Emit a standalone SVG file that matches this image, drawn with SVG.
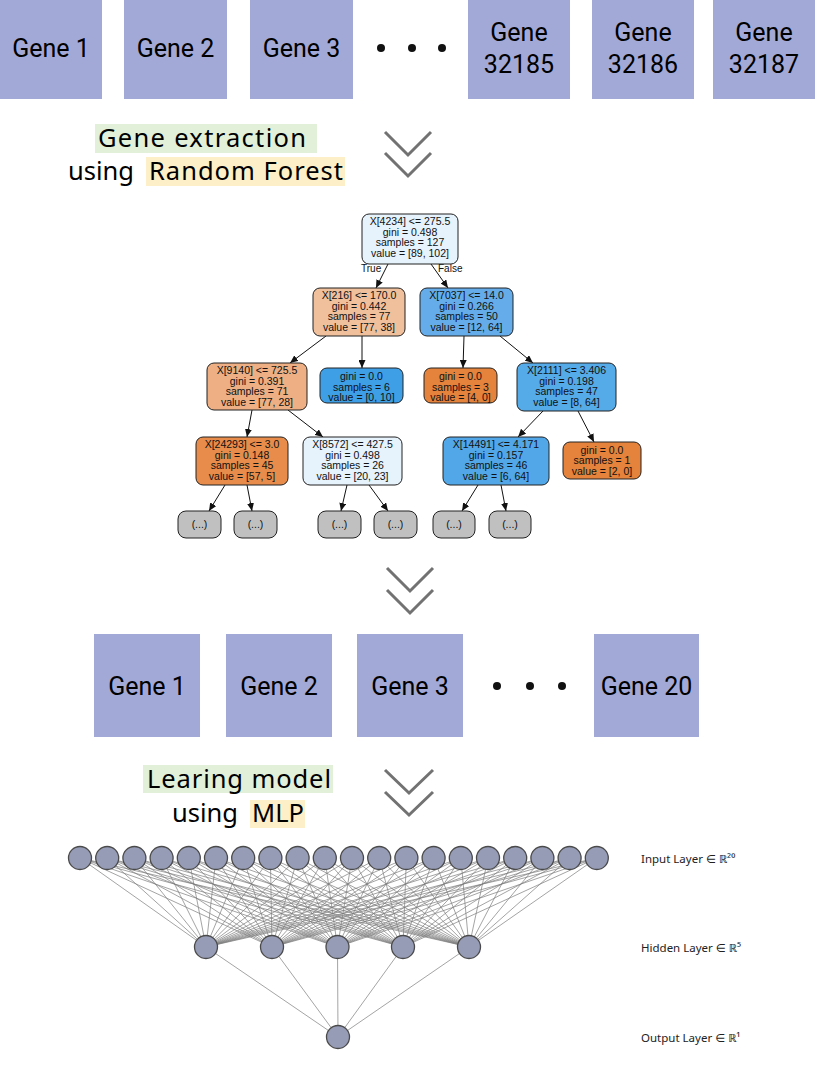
<svg xmlns="http://www.w3.org/2000/svg" width="818" height="1066" viewBox="0 0 818 1066">
<style>
.gbox{fill:#a3a9d6}
.gt{font-family:Roboto,"Noto Sans","Liberation Sans",sans-serif;font-size:25px;fill:#000;text-anchor:middle}
.ht{font-family:"Noto Sans","Liberation Sans",sans-serif;font-size:25.5px;fill:#000}
.hg{fill:#e2efd9}
.hy{fill:#fdefc7}
.chev{fill:none;stroke:#727272;stroke-width:3}
.tn{stroke:#222;stroke-width:1}
.tt{font-family:"Liberation Sans",Arial,sans-serif;font-size:10.5px;fill:#111;text-anchor:middle}
.te{stroke:#111;stroke-width:1;fill:none;marker-end:url(#ah)}
.el{font-family:"Liberation Sans",Arial,sans-serif;font-size:10px;fill:#111}
.nn{fill:#979cb6;stroke:#4a4a4a;stroke-width:1.3}
.ml{stroke:#7c7c7c;stroke-width:0.7;fill:none}
.lt{font-family:"Noto Sans","DejaVu Sans",sans-serif;font-size:11.5px;fill:#222}
</style>
<defs>
<marker id="ah" markerUnits="userSpaceOnUse" markerWidth="8" markerHeight="7" refX="8" refY="3.5" orient="auto">
<path d="M0,0 L8,3.5 L0,7 z" fill="#111"/>
</marker>
</defs>
<rect width="818" height="1066" fill="#fff"/>

<g id="top-genes">
<g id="g1"><rect class="gbox" x="0" y="0" width="102" height="99"/><text class="gt" x="51" y="57">Gene 1</text></g>
<g id="g2"><rect class="gbox" x="124" y="0" width="103" height="99"/><text class="gt" x="175.5" y="57">Gene 2</text></g>
<g id="g3"><rect class="gbox" x="250" y="0" width="103" height="99"/><text class="gt" x="301.5" y="57">Gene 3</text></g>
<g id="gdots1"><circle cx="381" cy="48" r="4" fill="#111"/><circle cx="412" cy="48" r="4" fill="#111"/><circle cx="442" cy="48" r="4" fill="#111"/></g>
<g id="g32185"><rect class="gbox" x="468" y="0" width="102" height="99"/><text class="gt" x="519" y="41">Gene</text><text class="gt" x="519" y="73">32185</text></g>
<g id="g32186"><rect class="gbox" x="592" y="0" width="102" height="99"/><text class="gt" x="643" y="41">Gene</text><text class="gt" x="643" y="73">32186</text></g>
<g id="g32187"><rect class="gbox" x="713" y="0" width="102" height="99"/><text class="gt" x="764" y="41">Gene</text><text class="gt" x="764" y="73">32187</text></g>
</g>

<g id="label-rf">
<rect class="hg" x="95" y="124" width="222" height="29"/>
<text class="ht" x="98" y="147" textLength="208" lengthAdjust="spacing">Gene extraction</text>
<text class="ht" x="68" y="180">using</text>
<rect class="hy" x="146" y="157" width="199" height="29"/>
<text class="ht" x="149" y="180" textLength="194" lengthAdjust="spacing">Random Forest</text>
</g>

<g id="arrows">
<polyline class="chev" points="385,132 408,155 431,132"/>
<polyline class="chev" points="385,153 408,176 431,153"/>
<polyline class="chev" points="387,568 410,591 433,568"/>
<polyline class="chev" points="387,590 410,613 433,590"/>
<polyline class="chev" points="385,770 409,793 433,770"/>
<polyline class="chev" points="385,792 409,815 433,792"/>
</g>

<g id="connectors">
<g id="tree-edges">
<line class="te" x1="388" y1="264" x2="376" y2="288"/>
<line class="te" x1="431" y1="264" x2="448" y2="288"/>
<line class="te" x1="326" y1="336" x2="290" y2="363"/>
<line class="te" x1="362" y1="336" x2="362" y2="368"/>
<line class="te" x1="464" y1="336" x2="463" y2="368"/>
<line class="te" x1="500" y1="336" x2="533" y2="363"/>
<line class="te" x1="252" y1="410" x2="247" y2="437"/>
<line class="te" x1="288" y1="410" x2="323" y2="437"/>
<line class="te" x1="543" y1="411" x2="518" y2="437"/>
<line class="te" x1="578" y1="411" x2="594" y2="442"/>
<line class="te" x1="225" y1="485" x2="209" y2="511"/>
<line class="te" x1="247" y1="485" x2="252" y2="511"/>
<line class="te" x1="347" y1="485" x2="341" y2="511"/>
<line class="te" x1="369" y1="485" x2="388" y2="511"/>
<line class="te" x1="478" y1="485" x2="462" y2="511"/>
<line class="te" x1="501" y1="485" x2="506" y2="511"/>
<text class="el" x="361" y="272">True</text>
<text class="el" x="438" y="272">False</text>
</g>
<g id="mlp-edges">
<path class="ml" d="M206 947L80 858L272 947M337.5 947L80 858L403 947M469 947L80 858
M206 947L107.2 858L272 947M337.5 947L107.2 858L403 947M469 947L107.2 858
M206 947L134.4 858L272 947M337.5 947L134.4 858L403 947M469 947L134.4 858
M206 947L161.6 858L272 947M337.5 947L161.6 858L403 947M469 947L161.6 858
M206 947L188.8 858L272 947M337.5 947L188.8 858L403 947M469 947L188.8 858
M206 947L216 858L272 947M337.5 947L216 858L403 947M469 947L216 858
M206 947L243.2 858L272 947M337.5 947L243.2 858L403 947M469 947L243.2 858
M206 947L270.4 858L272 947M337.5 947L270.4 858L403 947M469 947L270.4 858
M206 947L297.6 858L272 947M337.5 947L297.6 858L403 947M469 947L297.6 858
M206 947L324.8 858L272 947M337.5 947L324.8 858L403 947M469 947L324.8 858
M206 947L352 858L272 947M337.5 947L352 858L403 947M469 947L352 858
M206 947L379.2 858L272 947M337.5 947L379.2 858L403 947M469 947L379.2 858
M206 947L406.4 858L272 947M337.5 947L406.4 858L403 947M469 947L406.4 858
M206 947L433.6 858L272 947M337.5 947L433.6 858L403 947M469 947L433.6 858
M206 947L460.8 858L272 947M337.5 947L460.8 858L403 947M469 947L460.8 858
M206 947L488 858L272 947M337.5 947L488 858L403 947M469 947L488 858
M206 947L515.2 858L272 947M337.5 947L515.2 858L403 947M469 947L515.2 858
M206 947L542.4 858L272 947M337.5 947L542.4 858L403 947M469 947L542.4 858
M206 947L569.6 858L272 947M337.5 947L569.6 858L403 947M469 947L569.6 858
M206 947L596.8 858L272 947M337.5 947L596.8 858L403 947M469 947L596.8 858
M206 947L338 1037L272 947M337.5 947L338 1037L403 947M469 947L338 1037"/>
</g>
</g>

<g id="tree">
<g id="t-root"><rect class="tn" x="362" y="214" width="96" height="50" rx="7" fill="#e6f3fc"/>
<text class="tt" x="410" y="225">X[4234] &lt;= 275.5</text><text class="tt" x="410" y="235.7">gini = 0.498</text><text class="tt" x="410" y="246.3">samples = 127</text><text class="tt" x="410" y="257">value = [89, 102]</text></g>
<g id="t-216"><rect class="tn" x="313" y="288" width="92" height="48" rx="7" fill="#f0c09d"/>
<text class="tt" x="359" y="299">X[216] &lt;= 170.0</text><text class="tt" x="359" y="309.7">gini = 0.442</text><text class="tt" x="359" y="320.3">samples = 77</text><text class="tt" x="359" y="331">value = [77, 38]</text></g>
<g id="t-7037"><rect class="tn" x="420" y="288" width="93" height="48" rx="7" fill="#64adea"/>
<text class="tt" x="466.5" y="299">X[7037] &lt;= 14.0</text><text class="tt" x="466.5" y="309.7">gini = 0.266</text><text class="tt" x="466.5" y="320.3">samples = 50</text><text class="tt" x="466.5" y="331">value = [12, 64]</text></g>
<g id="t-9140"><rect class="tn" x="207" y="363" width="100" height="47" rx="7" fill="#edaf83"/>
<text class="tt" x="257" y="374">X[9140] &lt;= 725.5</text><text class="tt" x="257" y="384.7">gini = 0.391</text><text class="tt" x="257" y="395.3">samples = 71</text><text class="tt" x="257" y="406">value = [77, 28]</text></g>
<g id="t-leaf6"><rect class="tn" x="320" y="368" width="83" height="35" rx="7" fill="#3e9fe6"/>
<text class="tt" x="361.5" y="380">gini = 0.0</text><text class="tt" x="361.5" y="390.5">samples = 6</text><text class="tt" x="361.5" y="401">value = [0, 10]</text></g>
<g id="t-leaf3"><rect class="tn" x="424" y="368" width="73" height="35" rx="7" fill="#e5823b"/>
<text class="tt" x="460.5" y="380">gini = 0.0</text><text class="tt" x="460.5" y="390.5">samples = 3</text><text class="tt" x="460.5" y="401">value = [4, 0]</text></g>
<g id="t-2111"><rect class="tn" x="517" y="363" width="99" height="48" rx="7" fill="#55aae8"/>
<text class="tt" x="566.5" y="374">X[2111] &lt;= 3.406</text><text class="tt" x="566.5" y="384.7">gini = 0.198</text><text class="tt" x="566.5" y="395.3">samples = 47</text><text class="tt" x="566.5" y="406">value = [8, 64]</text></g>
<g id="t-24293"><rect class="tn" x="196" y="437" width="92" height="48" rx="7" fill="#e78c4b"/>
<text class="tt" x="242" y="448">X[24293] &lt;= 3.0</text><text class="tt" x="242" y="458.7">gini = 0.148</text><text class="tt" x="242" y="469.3">samples = 45</text><text class="tt" x="242" y="480">value = [57, 5]</text></g>
<g id="t-8572"><rect class="tn" x="303" y="437" width="99" height="48" rx="7" fill="#e6f2fc"/>
<text class="tt" x="352.5" y="448">X[8572] &lt;= 427.5</text><text class="tt" x="352.5" y="458.7">gini = 0.498</text><text class="tt" x="352.5" y="469.3">samples = 26</text><text class="tt" x="352.5" y="480">value = [20, 23]</text></g>
<g id="t-14491"><rect class="tn" x="443" y="437" width="106" height="48" rx="7" fill="#52a7e8"/>
<text class="tt" x="496" y="448">X[14491] &lt;= 4.171</text><text class="tt" x="496" y="458.7">gini = 0.157</text><text class="tt" x="496" y="469.3">samples = 46</text><text class="tt" x="496" y="480">value = [6, 64]</text></g>
<g id="t-leaf1"><rect class="tn" x="563" y="442" width="78" height="37" rx="7" fill="#e5823b"/>
<text class="tt" x="602" y="453.5">gini = 0.0</text><text class="tt" x="602" y="464">samples = 1</text><text class="tt" x="602" y="474.5">value = [2, 0]</text></g>
<g id="t-e1"><rect class="tn" x="178" y="511" width="43" height="27" rx="8" fill="#c0c0c0"/><text class="tt" x="199.5" y="528">(...)</text></g>
<g id="t-e2"><rect class="tn" x="234" y="511" width="43" height="27" rx="8" fill="#c0c0c0"/><text class="tt" x="255.5" y="528">(...)</text></g>
<g id="t-e3"><rect class="tn" x="318" y="511" width="43" height="27" rx="8" fill="#c0c0c0"/><text class="tt" x="339.5" y="528">(...)</text></g>
<g id="t-e4"><rect class="tn" x="374" y="511" width="43" height="27" rx="8" fill="#c0c0c0"/><text class="tt" x="395.5" y="528">(...)</text></g>
<g id="t-e5"><rect class="tn" x="433" y="511" width="42" height="27" rx="8" fill="#c0c0c0"/><text class="tt" x="454" y="528">(...)</text></g>
<g id="t-e6"><rect class="tn" x="489" y="511" width="42" height="27" rx="8" fill="#c0c0c0"/><text class="tt" x="510" y="528">(...)</text></g>
</g>

<g id="mid-genes">
<g id="s1"><rect class="gbox" x="94" y="634" width="106" height="103"/><text class="gt" x="147" y="695">Gene 1</text></g>
<g id="s2"><rect class="gbox" x="226" y="634" width="106" height="103"/><text class="gt" x="279" y="695">Gene 2</text></g>
<g id="s3"><rect class="gbox" x="357" y="634" width="106" height="103"/><text class="gt" x="410" y="695">Gene 3</text></g>
<g id="sdots"><circle cx="497" cy="686" r="4" fill="#111"/><circle cx="530" cy="686" r="4" fill="#111"/><circle cx="562" cy="686" r="4" fill="#111"/></g>
<g id="s20"><rect class="gbox" x="594" y="634" width="105" height="103"/><text class="gt" x="646.5" y="695">Gene 20</text></g>
</g>

<g id="label-mlp">
<rect class="hg" x="143" y="765" width="190" height="28"/>
<text class="ht" x="147" y="788" textLength="184" lengthAdjust="spacing">Learing model</text>
<text class="ht" x="172" y="822">using</text>
<rect class="hy" x="250" y="800" width="55" height="28"/>
<text class="ht" x="252" y="822">MLP</text>
</g>

<g id="mlp">
<g id="in1"><circle class="nn" cx="80" cy="858" r="11.5"/></g>
<g id="in2"><circle class="nn" cx="107.2" cy="858" r="11.5"/></g>
<g id="in3"><circle class="nn" cx="134.4" cy="858" r="11.5"/></g>
<g id="in4"><circle class="nn" cx="161.6" cy="858" r="11.5"/></g>
<g id="in5"><circle class="nn" cx="188.8" cy="858" r="11.5"/></g>
<g id="in6"><circle class="nn" cx="216" cy="858" r="11.5"/></g>
<g id="in7"><circle class="nn" cx="243.2" cy="858" r="11.5"/></g>
<g id="in8"><circle class="nn" cx="270.4" cy="858" r="11.5"/></g>
<g id="in9"><circle class="nn" cx="297.6" cy="858" r="11.5"/></g>
<g id="in10"><circle class="nn" cx="324.8" cy="858" r="11.5"/></g>
<g id="in11"><circle class="nn" cx="352" cy="858" r="11.5"/></g>
<g id="in12"><circle class="nn" cx="379.2" cy="858" r="11.5"/></g>
<g id="in13"><circle class="nn" cx="406.4" cy="858" r="11.5"/></g>
<g id="in14"><circle class="nn" cx="433.6" cy="858" r="11.5"/></g>
<g id="in15"><circle class="nn" cx="460.8" cy="858" r="11.5"/></g>
<g id="in16"><circle class="nn" cx="488" cy="858" r="11.5"/></g>
<g id="in17"><circle class="nn" cx="515.2" cy="858" r="11.5"/></g>
<g id="in18"><circle class="nn" cx="542.4" cy="858" r="11.5"/></g>
<g id="in19"><circle class="nn" cx="569.6" cy="858" r="11.5"/></g>
<g id="in20"><circle class="nn" cx="596.8" cy="858" r="11.5"/></g>
<g id="h1"><circle class="nn" cx="206" cy="947" r="11.5"/></g>
<g id="h2"><circle class="nn" cx="272" cy="947" r="11.5"/></g>
<g id="h3"><circle class="nn" cx="337.5" cy="947" r="11.5"/></g>
<g id="h4"><circle class="nn" cx="403" cy="947" r="11.5"/></g>
<g id="h5"><circle class="nn" cx="469" cy="947" r="11.5"/></g>
<g id="out1"><circle class="nn" cx="338" cy="1037" r="11.5"/></g>
<text class="lt" x="641" y="863">Input Layer ∈ ℝ²⁰</text>
<text class="lt" x="641" y="952">Hidden Layer ∈ ℝ⁵</text>
<text class="lt" x="641" y="1042">Output Layer ∈ ℝ¹</text>
</g>
</svg>
